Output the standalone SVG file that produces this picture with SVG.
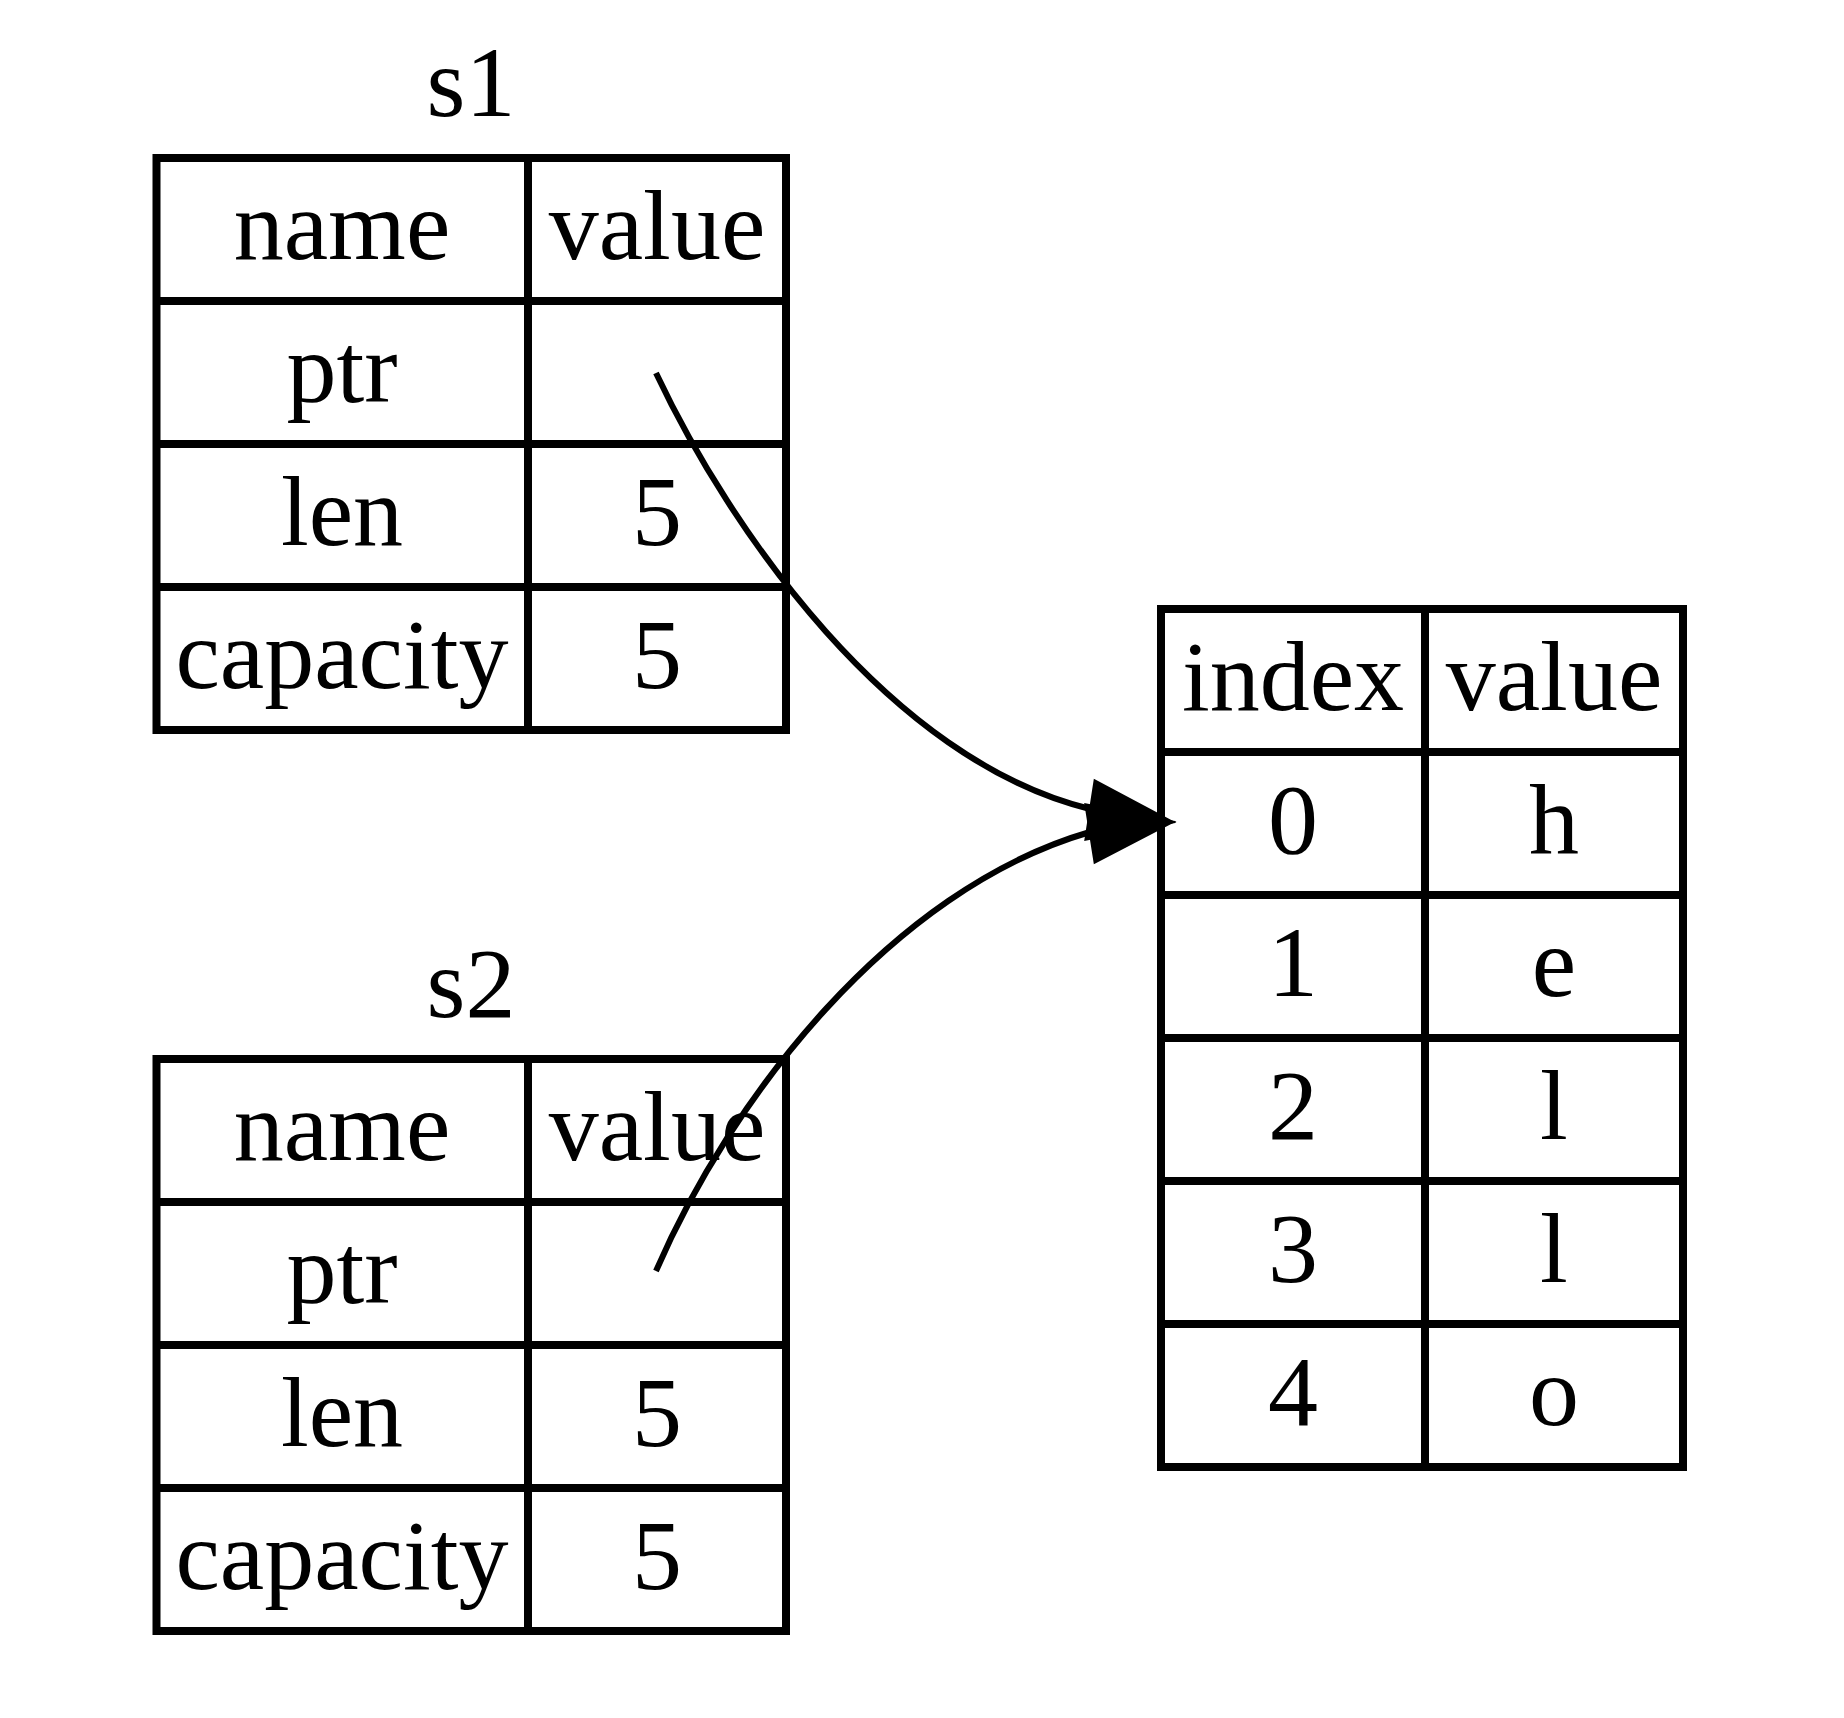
<svg xmlns="http://www.w3.org/2000/svg" width="1844" height="1718" viewBox="0 0 1844 1718">
<style>
.grid{fill:none;stroke:#000;stroke-width:8}
.t{font-family:"Liberation Serif","Times New Roman",serif;font-size:100px;fill:#000;text-anchor:middle}
.edge{fill:none;stroke:#000;stroke-width:6}
.head{fill:#000;stroke:#000;stroke-width:3;stroke-linejoin:miter}
</style>
<rect x="0" y="0" width="1844" height="1718" fill="#fff"/>
<g id="s1">
<text class="t" x="471" y="116">s1</text>
<rect class="grid" x="156.5" y="158" width="629.5" height="572"/>
<path class="grid" d="M528,158V730M156.5,301H786M156.5,444H786M156.5,587H786"/>
<text class="t" x="342" y="259">name</text>
<text class="t" x="657" y="259">value</text>
<text class="t" x="342" y="402">ptr</text>
<text class="t" x="342" y="545">len</text>
<text class="t" x="657" y="545">5</text>
<text class="t" x="342" y="688">capacity</text>
<text class="t" x="657" y="688">5</text>
</g>
<g id="s2">
<text class="t" x="471" y="1017">s2</text>
<rect class="grid" x="156.5" y="1059" width="629.5" height="572"/>
<path class="grid" d="M528,1059V1631M156.5,1202H786M156.5,1345H786M156.5,1488H786"/>
<text class="t" x="342" y="1160">name</text>
<text class="t" x="657" y="1160">value</text>
<text class="t" x="342" y="1303">ptr</text>
<text class="t" x="342" y="1446">len</text>
<text class="t" x="657" y="1446">5</text>
<text class="t" x="342" y="1589">capacity</text>
<text class="t" x="657" y="1589">5</text>
</g>
<g id="heap">
<rect class="grid" x="1161" y="609" width="522" height="858"/>
<path class="grid" d="M1425,609V1467M1161,752H1683M1161,895H1683M1161,1038H1683M1161,1181H1683M1161,1324H1683"/>
<text class="t" x="1293" y="710">index</text>
<text class="t" x="1554" y="710">value</text>
<text class="t" x="1293" y="853">0</text>
<text class="t" x="1554" y="853">h</text>
<text class="t" x="1293" y="996">1</text>
<text class="t" x="1554" y="996">e</text>
<text class="t" x="1293" y="1139">2</text>
<text class="t" x="1554" y="1139">l</text>
<text class="t" x="1293" y="1282">3</text>
<text class="t" x="1554" y="1282">l</text>
<text class="t" x="1293" y="1425">4</text>
<text class="t" x="1554" y="1425">o</text>
</g>
<g id="connectors">
<path class="edge" d="M656,373C730,530 890,760 1090,809"/>
<polygon class="head" points="1172,822 1095,781 1086,839"/>
<path class="edge" d="M656,1271C730,1100 890,890 1090,832"/>
<polygon class="head" points="1172,822 1086,805 1095,862"/>
</g>
</svg>
